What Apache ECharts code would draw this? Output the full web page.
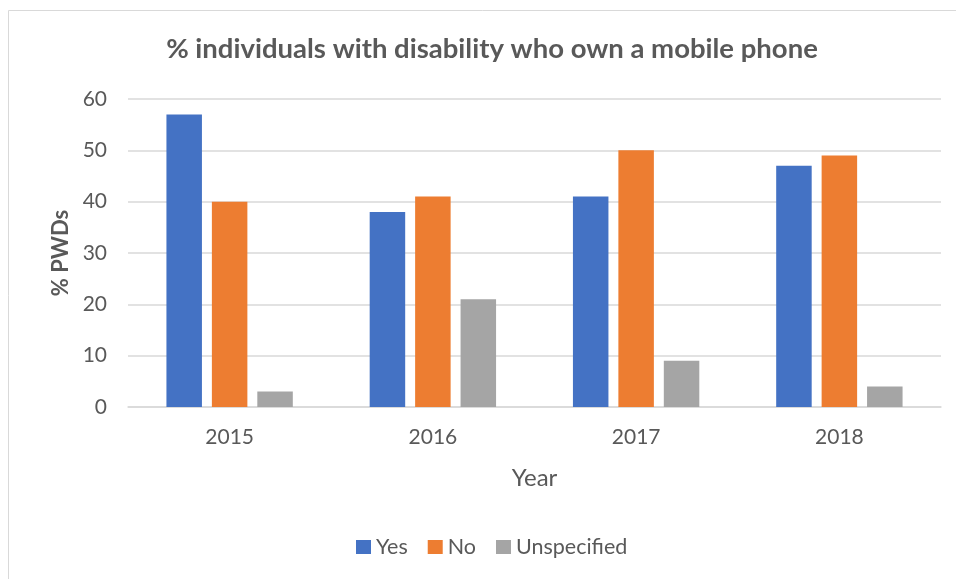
<!DOCTYPE html>
<html>
<head>
<meta charset="utf-8">
<script src="https://cdn.jsdelivr.net/npm/echarts@6/dist/echarts.min.js"></script>
<style>
  html, body { margin: 0; padding: 0; background: #ffffff; }
  #chart { width: 956px; height: 579px; }
</style>
</head>
<body>
<div id="chart"></div>
<script>
// Survey years on the category axis
const years = ['2015', '2016', '2017', '2018'];

// Share of persons with disability (%) by phone ownership answer
const yesValues = [57, 38, 41, 47];
const noValues = [40, 41, 50, 49];
const unspecifiedValues = [3, 21, 9, 4];

const seriesNames = ['Yes', 'No', 'Unspecified'];
const seriesColors = ['#4472C4', '#ED7D31', '#A5A5A5'];

const textColor = '#595959';
const fontFamily = 'Lato, "Open Sans", sans-serif';

const chart = echarts.init(document.getElementById('chart'), null, { renderer: 'canvas' });

const barBase = {
  type: 'bar',
  barWidth: 35.5,
  barGap: '28%'
};

chart.setOption({
  animation: false,
  textStyle: { fontFamily: fontFamily },
  graphic: [{
    type: 'rect',
    shape: { x: 8.5, y: 10.5, width: 960, height: 600 },
    style: { fill: 'none', stroke: '#d9d9d9', lineWidth: 1 },
    silent: true,
    z: -1
  }],
  title: {
    text: '% individuals with disability who own a mobile phone',
    left: 487,
    top: 30,
    textAlign: 'center',
    textStyle: {
      color: textColor,
      fontFamily: fontFamily,
      fontWeight: 'bold',
      fontSize: 27.5
    }
  },
  legend: {
    data: seriesNames,
    bottom: 16,
    left: 351,
    icon: 'rect',
    itemWidth: 15,
    itemHeight: 14,
    itemGap: 20,
    textStyle: { color: textColor, fontSize: 21.5, fontFamily: fontFamily }
  },
  grid: {
    left: 128,
    right: 15,
    top: 99,
    bottom: 172,
    containLabel: false
  },
  xAxis: {
    type: 'category',
    data: years,
    name: 'Year',
    nameLocation: 'middle',
    nameGap: 59,
    nameTextStyle: { color: textColor, fontSize: 24, fontFamily: fontFamily },
    axisTick: { show: false },
    axisLine: { lineStyle: { color: '#d9d9d9', width: 1.5 } },
    axisLabel: { color: textColor, fontSize: 21, margin: 20, fontFamily: fontFamily }
  },
  yAxis: {
    type: 'value',
    min: 0,
    max: 60,
    interval: 10,
    name: '% PWDs',
    nameLocation: 'middle',
    nameRotate: 90,
    nameGap: 55,
    nameTextStyle: { color: textColor, fontSize: 22, fontWeight: 'bold', fontFamily: fontFamily },
    axisLine: { show: false },
    axisTick: { show: false },
    axisLabel: { color: textColor, fontSize: 21, margin: 21, fontFamily: fontFamily },
    splitLine: { lineStyle: { color: '#d9d9d9', width: 1.5 } }
  },
  series: [
    Object.assign({}, barBase, { name: seriesNames[0], data: yesValues, itemStyle: { color: seriesColors[0] } }),
    Object.assign({}, barBase, { name: seriesNames[1], data: noValues, itemStyle: { color: seriesColors[1] } }),
    Object.assign({}, barBase, { name: seriesNames[2], data: unspecifiedValues, itemStyle: { color: seriesColors[2] } })
  ]
});
</script>
</body>
</html>
